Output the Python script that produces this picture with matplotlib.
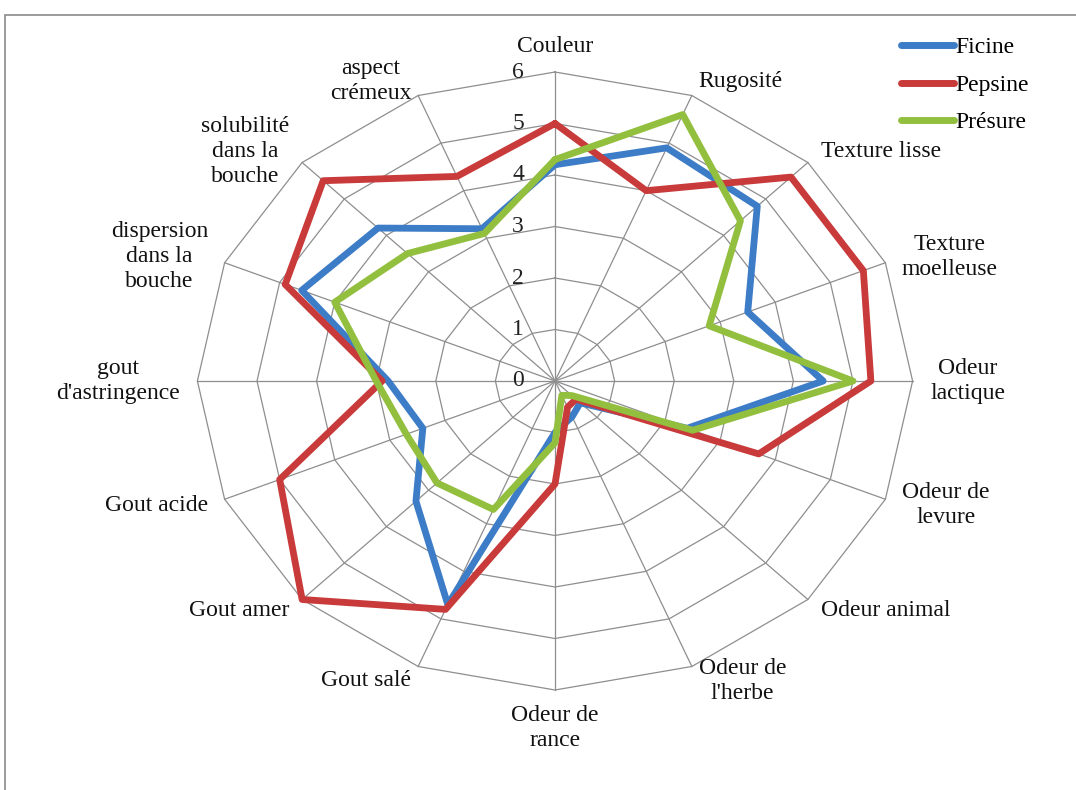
import numpy as np
import matplotlib
matplotlib.use("Agg")
import matplotlib.pyplot as plt
from matplotlib.patches import Rectangle

# Sensory attributes, clockwise from the top
categories = [
    "Couleur", "Rugosité", "Texture lisse", "Texture\nmoelleuse",
    "Odeur\nlactique", "Odeur de\nlevure", "Odeur animal", "Odeur de\nl'herbe",
    "Odeur de\nrance", "Gout salé", "Gout amer", "Gout acide",
    "gout\nd'astringence", "dispersion\ndans la\nbouche",
    "solubilité\ndans la\nbouche", "aspect\ncrémeux",
]

# Panel scores per coagulant
ficine = [4.2, 4.9, 4.8, 3.5, 4.5, 2.4, 0.6, 0.75, 1.0, 4.7, 3.3, 2.4, 2.8, 4.6, 4.2, 3.2]
pepsine = [5.0, 4.0, 5.6, 5.6, 5.3, 3.7, 0.5, 0.55, 2.0, 4.8, 6.0, 5.0, 2.9, 4.9, 5.5, 4.3]
presure = [4.3, 5.6, 4.4, 2.8, 5.0, 2.5, 0.4, 0.3, 1.2, 2.7, 2.8, 2.7, 3.0, 4.0, 3.5, 3.1]

series_names = ["Ficine", "Pepsine", "Présure"]
series_colors = ["#3d7cc6", "#c93a3a", "#93bf3f"]
rings = [0, 1, 2, 3, 4, 5, 6]

FONT = "Liberation Serif"
FS = 17

W, H = 1076, 790
fig = plt.figure(figsize=(W / 100, H / 100), dpi=100)
fig.patch.set_facecolor("white")

# Axes filling the figure; the plot is slightly wider than tall
cx, cy = 555, 381          # centre in pixels (from top-left)
sx, sy = 59.6, 51.5        # pixels per unit, horizontal / vertical
ax = fig.add_axes([0, 0, 1, 1])
ax.set_xlim(-cx / sx, (W - cx) / sx)
ax.set_ylim(-(H - cy) / sy, cy / sy)
ax.set_aspect("auto")
ax.axis("off")

n = len(categories)
theta = np.arange(n) * 2 * np.pi / n
ux, uy = np.sin(theta), np.cos(theta)
rmax = rings[-1]


def closed(values):
    """Polygon vertices for radial values, closed back to the first one."""
    v = np.asarray(values, dtype=float)
    xs, ys = v * ux, v * uy
    return np.r_[xs, xs[:1]], np.r_[ys, ys[:1]]


# Frame around the chart area
fig.add_artist(Rectangle((5 / W, -0.05), 1.2, 1 - 15 / H + 0.05,
                         transform=fig.transFigure, fill=False,
                         edgecolor="#8a8a8a", linewidth=1.2))

grid_kw = dict(color="#8e8e8e", linewidth=0.9, zorder=1)
# Polygonal rings
for r in rings[1:]:
    ax.plot(*closed(np.full(n, r)), **grid_kw)
# Spokes
for i in range(n):
    ax.plot([0, rmax * ux[i]], [0, rmax * uy[i]], **grid_kw)

# Ring values along the top spoke
for r in rings:
    ax.text(-0.52, r, str(r), ha="right", va="center",
            fontsize=FS, family=FONT, color="#222222")

# Category labels around the outside
lr = 6.3
for i, lab in enumerate(categories):
    s, c = ux[i], uy[i]
    ha = "left" if s > 0.1 else ("right" if s < -0.1 else "center")
    va = "bottom" if c > 0.95 else ("top" if c < -0.95 else "center")
    ax.text(lr * s, lr * c, lab, ha=ha, va=va, multialignment="center",
            fontsize=FS, family=FONT, color="#111111", linespacing=1.24)

# Data polygons
for name, vals, col in zip(series_names, [ficine, pepsine, presure], series_colors):
    ax.plot(*closed(vals), color=col, linewidth=4.9, solid_joinstyle="round",
            solid_capstyle="round", label=name, zorder=3)

leg = fig.legend(loc="upper left", bbox_to_anchor=(889 / W, 1 - 25 / H),
                 frameon=False, handlelength=2.25, handletextpad=0.05,
                 labelspacing=0.68, borderpad=0,
                 prop={"family": FONT, "size": FS})
for line in leg.get_lines():
    line.set_linewidth(5)
    line.set_solid_capstyle("round")

fig.savefig("out.png", dpi=100, facecolor="white")
